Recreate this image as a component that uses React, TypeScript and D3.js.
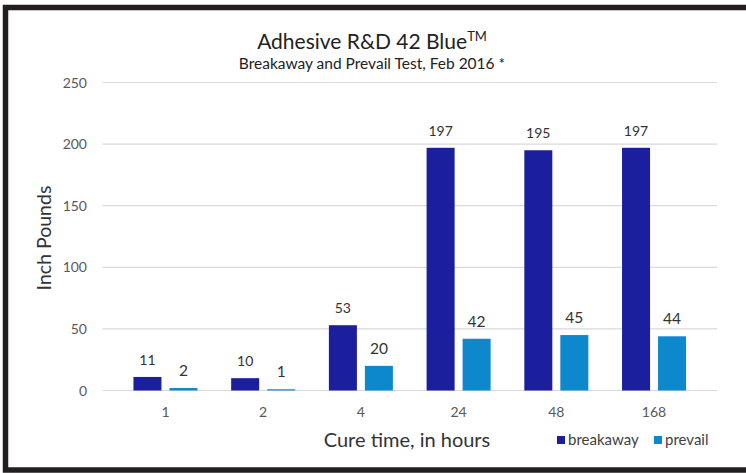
import React from "react";
import * as d3 from "d3";

const categories = ["1", "2", "4", "24", "48", "168"];
const seriesNames = ["breakaway", "prevail"];
const breakaway = [11, 10, 53, 197, 195, 197];
const prevail = [2, 1, 20, 42, 45, 44];
const yTicks = [0, 50, 100, 150, 200, 250];

const colors: Record<string, string> = {
  breakaway: "#1b1f9e",
  prevail: "#0e88cc",
};

const W = 746;
const H = 473;
const FONT = "Lato, 'Open Sans', sans-serif";

export default function App() {
  const x = d3.scaleBand<string>().domain(categories).range([116.6, 702.9]);
  const xs = d3
    .scaleBand<string>()
    .domain(seriesNames)
    .range([0, x.bandwidth()])
    .paddingInner(0.222)
    .paddingOuter(0.468);
  const y = d3.scaleLinear().domain([0, 250]).range([390.5, 82.5]);

  const rows = categories.map((c, i) => ({
    cat: c,
    values: [
      { key: "breakaway", v: breakaway[i] },
      { key: "prevail", v: prevail[i] },
    ],
  }));

  return (
    <div style={{ position: "fixed", left: 0, top: 0 }}>
      <svg width={W} height={H} style={{ display: "block", background: "#fff" }}>
        <path
          d={`M${W},7.5 L5.5,7.5 L5.5,470 L${W},470`}
          fill="none"
          stroke="#231f20"
          strokeWidth={5.5}
        />
        <text
          x={372}
          y={49}
          textAnchor="middle"
          fontFamily={FONT}
          fontSize={21}
          fill="#222"
        >
          Adhesive R&amp;D 42 Blue
          <tspan fontSize={13} dy={-8}>
            TM
          </tspan>
        </text>
        <text
          x={372}
          y={69}
          textAnchor="middle"
          fontFamily={FONT}
          fontSize={15.5}
          fill="#222"
        >
          Breakaway and Prevail Test, Feb 2016 *
        </text>

        {yTicks.map((t) => (
          <g key={t}>
            <line
              x1={102.5}
              x2={717}
              y1={y(t)}
              y2={y(t)}
              stroke="#d9d9d9"
              strokeWidth={1.2}
            />
            <text
              x={87}
              y={y(t) + 5}
              textAnchor="end"
              fontFamily={FONT}
              fontSize={14}
              fill="#595959"
            >
              {t}
            </text>
          </g>
        ))}

        {rows.map((r) => (
          <g key={r.cat} transform={`translate(${x(r.cat)},0)`}>
            {r.values.map((d) => (
              <g key={d.key}>
                <rect
                  x={xs(d.key)}
                  y={y(d.v)}
                  width={xs.bandwidth()}
                  height={y(0) - y(d.v)}
                  fill={colors[d.key]}
                />
                <text
                  x={(xs(d.key) as number) + xs.bandwidth() / 2}
                  y={y(d.v) - 12}
                  textAnchor="middle"
                  fontFamily={FONT}
                  fontSize={d.key === "breakaway" ? 14 : 15.5}
                  fill="#333"
                >
                  {d.v}
                </text>
              </g>
            ))}
            <text
              x={x.bandwidth() / 2}
              y={417}
              textAnchor="middle"
              fontFamily={FONT}
              fontSize={14}
              fill="#595959"
            >
              {r.cat}
            </text>
          </g>
        ))}

        <text
          transform={`translate(51,238) rotate(-90)`}
          textAnchor="middle"
          fontFamily={FONT}
          fontSize={19.5}
          fill="#333"
        >
          Inch Pounds
        </text>
        <text
          x={407}
          y={447}
          textAnchor="middle"
          fontFamily={FONT}
          fontSize={20}
          fill="#333"
        >
          Cure time, in hours
        </text>

        {seriesNames.map((s, i) => {
          const lx = i === 0 ? 557 : 654;
          return (
            <g key={s}>
              <rect x={lx} y={436} width={8} height={8} fill={colors[s]} />
              <text
                x={lx + 11}
                y={445}
                fontFamily={FONT}
                fontSize={15}
                fill="#404040"
              >
                {s}
              </text>
            </g>
          );
        })}
      </svg>
    </div>
  );
}
